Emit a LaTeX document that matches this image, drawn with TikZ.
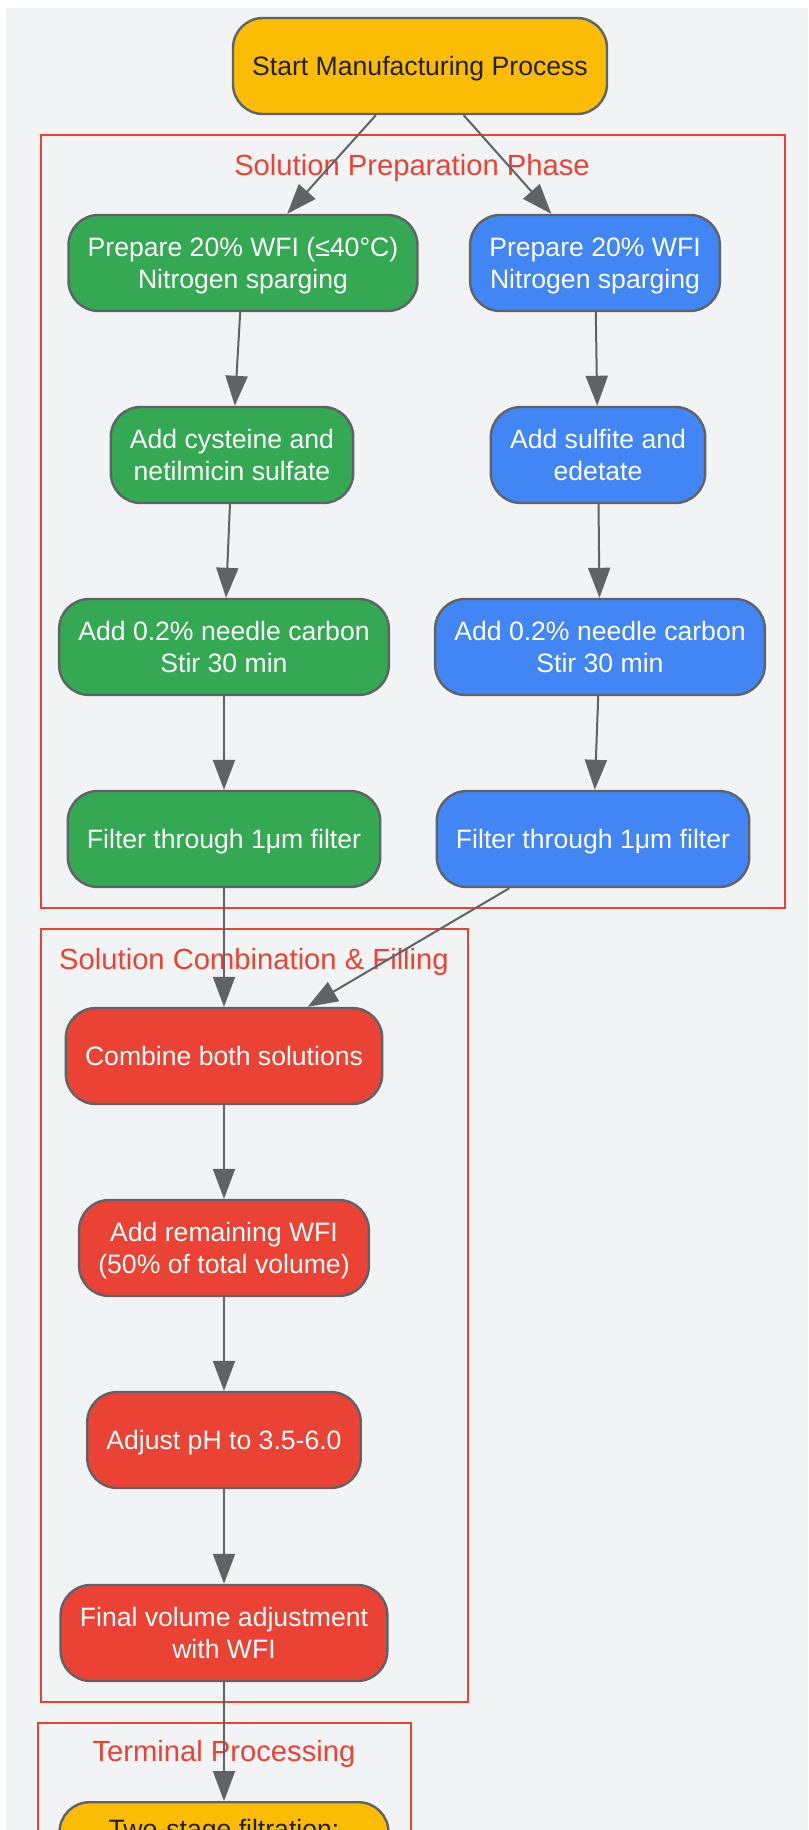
\documentclass[tikz,border=0pt]{standalone}
\usepackage{fontspec}
\setmainfont{Liberation Sans}
\usetikzlibrary{arrows.meta}
\definecolor{bgcol}{HTML}{F1F3F4}
\definecolor{edgecol}{HTML}{5F6368}
\definecolor{phasecol}{HTML}{EA4335}
\definecolor{greencol}{HTML}{34A853}
\definecolor{bluecol}{HTML}{4285F4}
\definecolor{redcol}{HTML}{EA4335}
\definecolor{yellowcol}{HTML}{FBBC04}
\definecolor{darktext}{HTML}{202124}
\begin{document}
\begin{tikzpicture}[x=0.5pt, y=-0.5pt,
  box/.style={draw=edgecol, line width=1.2pt, rounded corners=15pt, minimum height=48pt,
    inner xsep=9.6pt, align=center, text=white, text depth=0pt, font=\fontsize{13.3}{15.75}\selectfont},
  greenbox/.style={box, fill=greencol},
  bluebox/.style={box, fill=bluecol},
  redbox/.style={box, fill=redcol},
  yellowbox/.style={box, fill=yellowcol, text=darktext},
  phase/.style={draw=phasecol, line width=1pt},
  phaselabel/.style={text=phasecol, text depth=0pt, font=\fontsize{14.6}{17}\selectfont},
  flow/.style={draw=edgecol, line width=1pt, -{Triangle[length=15pt,width=11pt]}}]
\useasboundingbox (0,0) rectangle (808,1830);
\clip (0,0) rectangle (808,1830);
\fill[bgcol] (6,8) rectangle (808,1830);
% phases
\draw[phase] (41,135) rectangle (785,908);
\node[phaselabel] (prephase) at (412,165) {Solution Preparation Phase};
\draw[phase] (41,929) rectangle (468,1702);
\node[phaselabel] (combphase) at (254,959) {Solution Combination \& Filling};
\draw[phase] (38,1723) rectangle (411,1900);
\node[phaselabel] (termphase) at (224,1751) {Terminal Processing};
% steps
\node[yellowbox] (start) at (420,66) {Start Manufacturing Process};
\node[greenbox] (g1) at (243,263) {Prepare 20\% WFI (≤40°C)\\Nitrogen sparging};
\node[greenbox] (g2) at (232,455) {Add cysteine and\\netilmicin sulfate};
\node[greenbox] (g3) at (224,647) {Add 0.2\% needle carbon\\Stir 30 min};
\node[greenbox] (g4) at (224,839) {Filter through 1μm filter};
\node[bluebox] (b1) at (595,263) {Prepare 20\% WFI\\Nitrogen sparging};
\node[bluebox] (b2) at (598,455) {Add sulfite and\\edetate};
\node[bluebox] (b3) at (600,647) {Add 0.2\% needle carbon\\Stir 30 min};
\node[bluebox] (b4) at (593,839) {Filter through 1μm filter};
\node[redbox] (r1) at (224,1056) {Combine both solutions};
\node[redbox] (r2) at (224,1248) {Add remaining WFI\\(50\% of total volume)};
\node[redbox] (r3) at (224,1440) {Adjust pH to 3.5-6.0};
\node[redbox] (r4) at (224,1633) {Final volume adjustment\\with WFI};
\node[yellowbox, anchor=north, minimum width=164.5pt, text depth=21.5pt] (y1) at (224,1801) {Two-stage filtration:};
% connectors
\draw[flow] (start) -- (g1);
\draw[flow] (start) -- (b1);
\draw[flow] (g1) -- (g2);
\draw[flow] (g2) -- (g3);
\draw[flow] (g3) -- (g4);
\draw[flow] (b1) -- (b2);
\draw[flow] (b2) -- (b3);
\draw[flow] (b3) -- (b4);
\draw[flow] (g4) -- (r1);
\draw[flow] (b4) -- (r1);
\draw[flow] (r1) -- (r2);
\draw[flow] (r2) -- (r3);
\draw[flow] (r3) -- (r4);
\draw[flow] (r4) -- (y1);
\end{tikzpicture}
\end{document}
